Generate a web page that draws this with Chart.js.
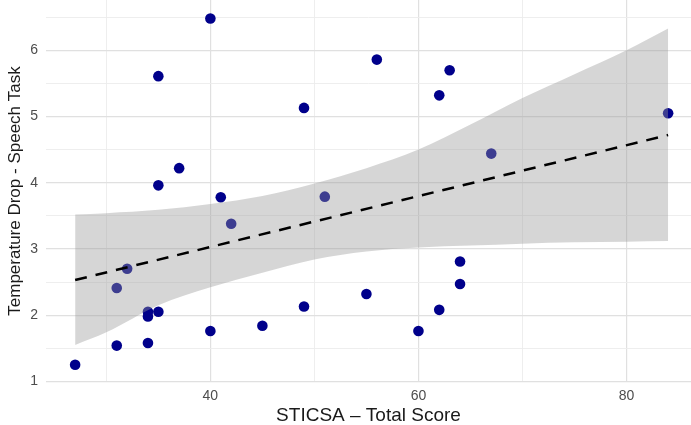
<!DOCTYPE html>
<html>
<head>
<meta charset="utf-8">
<script src="https://cdn.jsdelivr.net/npm/chart.js@4"></script>
<style>
  html, body { margin: 0; padding: 0; background: #fff; }
  #wrap { width: 691px; height: 425px; }
</style>
</head>
<body>
<div id="wrap"><canvas id="chart"></canvas></div>
<script>
// STICSA total vs temperature drop
const sticsa = [27, 31, 31, 32, 34, 34, 34, 35, 35, 35, 37, 40, 40, 41, 42, 45, 49, 49, 51, 55, 56, 60, 62, 62, 63, 64, 64, 67, 84];
const tempDrop = [1.25, 1.54, 2.41, 2.70, 1.58, 1.98, 2.05, 2.05, 3.96, 5.61, 4.22, 6.48, 1.76, 3.78, 3.38, 1.84, 5.13, 2.13, 3.79, 2.32, 5.86, 1.76, 5.32, 2.08, 5.70, 2.81, 2.47, 4.44, 5.05];

// regression line + confidence band
const fitX = [27, 84];
const fitY = [2.53, 4.72];
const bandX = [27, 30, 35, 40, 45, 50, 55, 60, 65, 70, 75, 80, 84];
const bandUpper = [3.52, 3.54, 3.59, 3.68, 3.80, 3.99, 4.22, 4.50, 4.88, 5.28, 5.64, 6.00, 6.33];
const bandLower = [1.55, 1.74, 2.15, 2.42, 2.64, 2.84, 2.96, 3.02, 3.05, 3.08, 3.10, 3.11, 3.12];

const xTicks = [30, 40, 50, 60, 70, 80];
const xLabels = [40, 60, 80];
const yTicks = [1, 1.5, 2, 2.5, 3, 3.5, 4, 4.5, 5, 5.5, 6, 6.5];
const yLabels = [1, 2, 3, 4, 5, 6];

const FONT = '"Liberation Sans", Arial, sans-serif';

const toXY = (xs, ys) => xs.map((x, i) => ({ x: x, y: ys[i] }));

// major lines a bit stronger than the minor ones
function gridColor(ctx, labels) {
  return labels.includes(ctx.tick.value) ? '#e0e0e0' : '#ececec';
}
function gridWidth(ctx, labels) {
  return labels.includes(ctx.tick.value) ? 1.2 : 0.9;
}

new Chart(document.getElementById('chart'), {
  type: 'scatter',
  data: {
    datasets: [
      {
        data: toXY(sticsa, tempDrop),
        backgroundColor: '#00008B',
        borderWidth: 0,
        pointRadius: 5.3,
        order: 3
      },
      {
        type: 'line',
        data: toXY(bandX, bandUpper),
        borderWidth: 0,
        pointRadius: 0,
        backgroundColor: 'rgba(153,153,153,0.4)',
        fill: '+1',
        cubicInterpolationMode: 'monotone',
        order: 1
      },
      {
        type: 'line',
        data: toXY(bandX, bandLower),
        borderWidth: 0,
        pointRadius: 0,
        fill: false,
        cubicInterpolationMode: 'monotone',
        order: 2
      },
      {
        type: 'line',
        data: toXY(fitX, fitY),
        borderColor: '#000',
        borderWidth: 2.5,
        borderDash: [12, 9],
        pointRadius: 0,
        fill: false,
        order: 0
      }
    ]
  },
  options: {
    responsive: true,
    maintainAspectRatio: false,
    animation: false,
    layout: { padding: 0, autoPadding: false },
    plugins: {
      legend: { display: false },
      tooltip: { enabled: false }
    },
    scales: {
      x: {
        type: 'linear',
        min: 24.2,
        max: 86.2,
        afterBuildTicks: (scale) => { scale.ticks = xTicks.map(v => ({ value: v })); },
        afterFit: (scale) => {
          scale.height = 43;
          scale.paddingLeft = 0;
          scale.paddingRight = 0;
        },
        border: { display: false },
        grid: {
          drawTicks: false,
          color: (ctx) => gridColor(ctx, xLabels),
          lineWidth: (ctx) => gridWidth(ctx, xLabels)
        },
        ticks: {
          padding: 6,
          maxRotation: 0,
          autoSkip: false,
          color: '#4d4d4d',
          font: { family: FONT, size: 14 },
          callback: (v) => xLabels.includes(v) ? String(v) : ''
        },
        title: {
          display: true,
          text: 'STICSA – Total Score',
          color: '#1a1a1a',
          font: { family: FONT, size: 19, lineHeight: 1 },
          padding: { top: 0, bottom: 0 }
        }
      },
      y: {
        type: 'linear',
        min: 0.99,
        max: 6.76,
        afterBuildTicks: (scale) => { scale.ticks = yTicks.map(v => ({ value: v })); },
        afterFit: (scale) => {
          scale.width = 46;
          scale.paddingTop = 0;
          scale.paddingBottom = 0;
        },
        border: { display: false },
        grid: {
          drawTicks: false,
          color: (ctx) => gridColor(ctx, yLabels),
          lineWidth: (ctx) => gridWidth(ctx, yLabels)
        },
        ticks: {
          padding: 8,
          autoSkip: false,
          color: '#4d4d4d',
          font: { family: FONT, size: 14 },
          callback: (v) => yLabels.includes(v) ? String(v) : ''
        },
        title: {
          display: true,
          text: 'Temperature Drop - Speech Task',
          color: '#1a1a1a',
          font: { family: FONT, size: 17, lineHeight: 1 },
          padding: { top: 7, bottom: 0 }
        }
      }
    }
  }
});
</script>
</body>
</html>
